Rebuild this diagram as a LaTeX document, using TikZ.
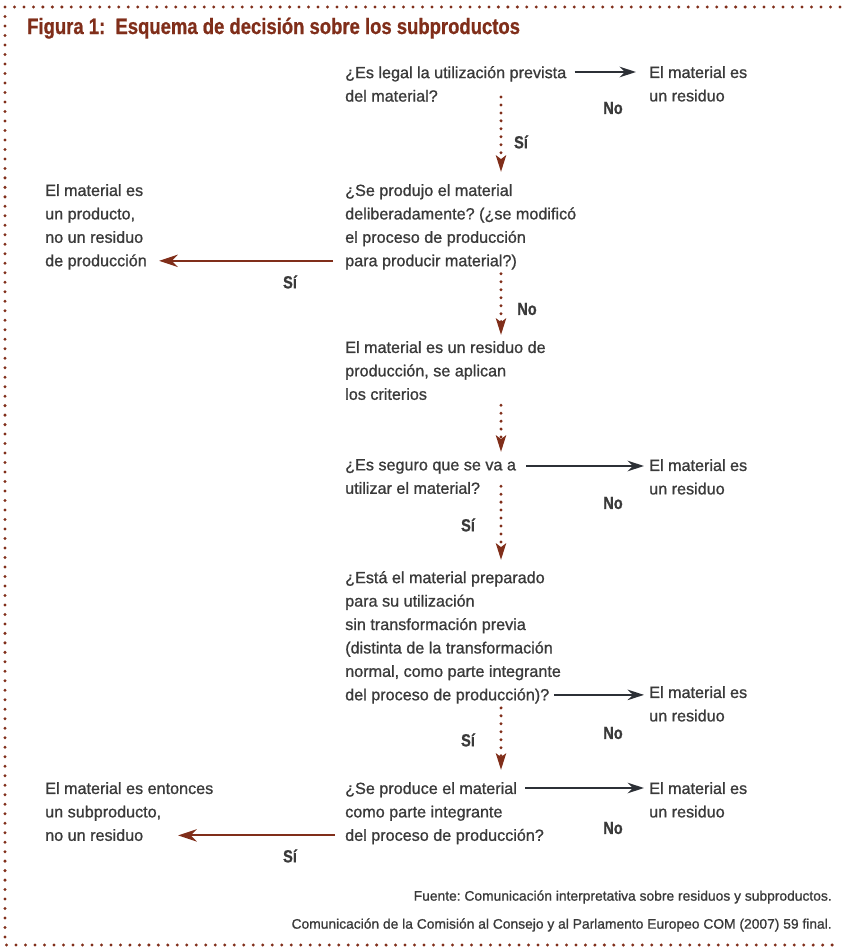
\documentclass[tikz,border=0pt]{standalone}
\usepackage{fontspec}
\setmainfont{Liberation Sans}[FakeBold=1.0]
\newfontfamily\titlefont{Liberation Sans}[FakeStretch=0.83,FakeBold=0.8]
\usetikzlibrary{positioning, calc, arrows.meta}
\definecolor{brownred}{RGB}{128,46,26}
\definecolor{txtgray}{RGB}{58,58,58}
\definecolor{arrgray}{RGB}{44,48,54}
\frenchspacing

\begin{document}
\begin{tikzpicture}[x=0.3mm,y=-0.3mm,
        txt/.style={% For questions and answers
            anchor=north west,
            align=left,
            inner sep=0pt,
            text=txtgray,
            font=\fontsize{13.8}{20}\selectfont,
            },
        lbl/.style={% For the No / Si labels
            inner sep=0pt,
            text=txtgray,
            font=\titlefont\fontsize{15}{16}\selectfont\bfseries,
            },
        src/.style={% For the source lines
            anchor=east,
            inner sep=0pt,
            text=txtgray,
            font=\fontsize{11.8}{14}\selectfont,
            },
        noarrow/.style={% Arrows for a No
            draw=arrgray,
            line width=1.5pt,
            -{Stealth[length=14pt,width=9pt]},
            },
        siarrow/.style={% Arrows for a Si to the left
            draw=brownred,
            line width=1.8pt,
            -{Stealth[length=16pt,width=10.5pt]},
            },
        dotarrow/.style={% Dotted arrows down the chain
            draw=brownred,
            line width=2.8pt,
            line cap=round,
            dash pattern=on 0pt off 6.8pt,
            -{Stealth[length=14pt,width=8.5pt,inset=3pt]},
            },
        frame/.style={% Dotted frame round everything
            draw=brownred,
            line width=2.8pt,
            line cap=round,
            dash pattern=on 0pt off 8.1pt,
            },
            ]
         \useasboundingbox (0,0) rectangle (842,952);
         \draw[frame] (840,7) -- (5,7) -- (5,945) -- (840,945);
         \node[anchor=base west,inner sep=0pt,text=brownred,font=\titlefont\fontsize{19}{22}\selectfont\bfseries] (title) at (27,34) {Figura 1:\ \ Esquema de decisión sobre los subproductos};
            % questions down the middle
         \node[txt] (q1) at (345,66) {¿Es legal la utilización prevista\\del material?};
         \node[txt] (q2) at (345,184) {¿Se produjo el material\\deliberadamente? (¿se modificó\\el proceso de producción\\para producir material?)};
         \node[txt] (q3) at (345,341) {El material es un residuo de\\producción, se aplican\\los criterios};
         \node[txt] (q4) at (345,459) {¿Es seguro que se va a\\utilizar el material?};
         \node[txt] (q5) at (345,571) {¿Está el material preparado\\para su utilización\\sin transformación previa\\(distinta de la transformación\\normal, como parte integrante\\del proceso de producción)?};
         \node[txt] (q6) at (345,782) {¿Se produce el material\\como parte integrante\\del proceso de producción?};
            % answers on the right and the left
         \node[txt] (r1) at (649,66) {El material es\\un residuo};
         \node[txt] (r4) at (649,459) {El material es\\un residuo};
         \node[txt] (r5) at (649,686) {El material es\\un residuo};
         \node[txt] (r6) at (649,782) {El material es\\un residuo};
         \node[txt] (l2) at (45,184) {El material es\\un producto,\\no un residuo\\de producción};
         \node[txt] (l6) at (45,782) {El material es entonces\\un subproducto,\\no un residuo};
         \coordinate (spine) at (501,0);
	  \draw[noarrow] ($(q1.north east)+(8,6)$) coordinate (n1) -- ($(n1 -| r1.west)+(-13,0)$);
	  \draw[dotarrow] ($(q1.south -| spine)+(0,-5)$) -- ($(q2.north -| spine)+(0,-12)$);
	  \draw[siarrow] ($(q2.south west)+(-12,-9)$) coordinate (s2) -- ($(s2 -| l2.east)+(12,0)$);
	  \draw[dotarrow] ($(q2.south -| spine)+(0,4)$) -- ($(q3.north -| spine)+(0,-6)$);
	  \draw[dotarrow] ($(q3.south -| spine)+(0,5)$) -- ($(q4.north -| spine)+(0,-7)$);
	  \draw[noarrow] ($(q4.north east)+(10,7)$) coordinate (n4) -- ($(n4 -| r4.west)+(-5,0)$);
	  \draw[dotarrow] ($(q4.south -| spine)+(0,-8)$) -- ($(q5.north -| spine)+(0,-11)$);
	  \draw[noarrow] ($(q5.south west)+(209,-9)$) coordinate (n5) -- ($(n5 -| r5.west)+(-5,0)$);
	  \draw[dotarrow] ($(q5.south -| spine)+(0,4)$) -- ($(q6.north -| spine)+(0,-12)$);
	  \draw[noarrow] ($(q6.north west)+(180,6)$) coordinate (n6) -- ($(n6 -| r6.west)+(-5,0)$);
	  \draw[siarrow] ($(q6.south west)+(-10,-9)$) coordinate (s6) -- ($(s6 -| l6.west)+(133,0)$);
            % labels of the answers
         \node[lbl] (no1) at (613,108) {No};
         \node[lbl] (si1) at (521,142) {Sí};
         \node[lbl] (si2) at (290,282) {Sí};
         \node[lbl] (no2) at (527,309) {No};
         \node[lbl] (no4) at (613,503) {No};
         \node[lbl] (si4) at (468,525) {Sí};
         \node[lbl] (no5) at (613,733) {No};
         \node[lbl] (si5) at (468,740) {Sí};
         \node[lbl] (no6) at (613,828) {No};
         \node[lbl] (si6) at (290,856) {Sí};
         \node[src] (src1) at (832,897) {Fuente: Comunicación interpretativa sobre residuos y subproductos.};
         \node[src] (src2) at (832,925) {Comunicación de la Comisión al Consejo y al Parlamento Europeo COM (2007) 59 final.};
\end{tikzpicture}
\end{document}
